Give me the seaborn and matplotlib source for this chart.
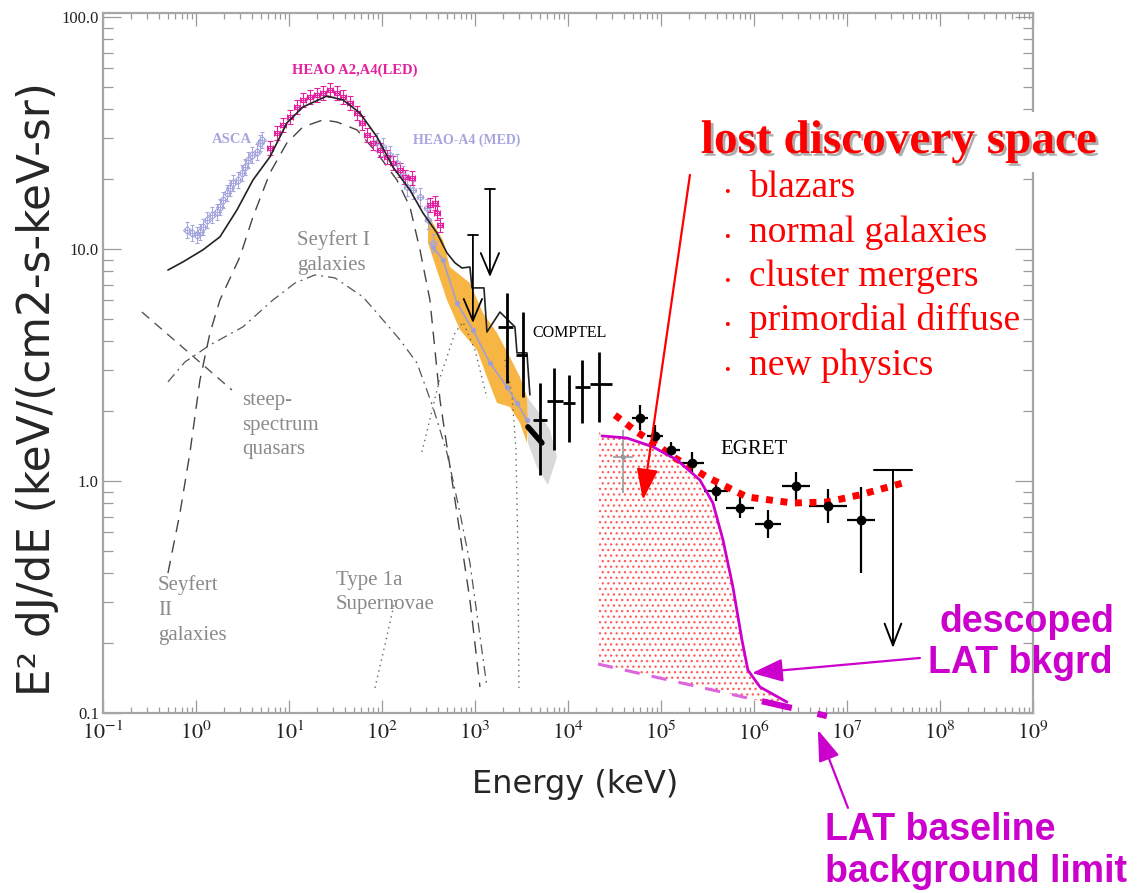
import numpy as np
import matplotlib
matplotlib.use("Agg")
import matplotlib.pyplot as plt
import matplotlib.patheffects as pe
from matplotlib.ticker import FixedLocator, FixedFormatter, LogLocator, NullFormatter
import seaborn as sns

# values: log10(E / keV) and log10(E^2 dJ/dE)

# total model (solid black)
tot_logE = [-0.301, -0.140, 0.075, 0.258, 0.441, 0.613, 0.796, 0.978, 1.151, 1.409, 1.581,
            1.763, 1.946, 2.118, 2.301, 2.441, 2.591, 2.699, 2.785, 2.860, 2.946, 2.968,
            3.097, 3.129, 3.269, 3.430, 3.452, 3.559, 3.591]
tot_logF = [0.909, 0.944, 0.996, 1.052, 1.168, 1.297, 1.397, 1.543, 1.612, 1.659, 1.642,
            1.586, 1.483, 1.353, 1.254, 1.155, 1.069, 0.983, 0.940, 0.918, 0.922, 0.832,
            0.832, 0.642, 0.728, 0.664, 0.552, 0.552, 0.371]

# Seyfert II (dashed)
sy2_logE = [-0.301, -0.172, -0.065, 0.043, 0.151, 0.258, 0.473, 0.613, 0.796, 0.978, 1.151, 1.366,
            1.516, 1.731, 1.946, 2.161, 2.301, 2.409, 2.516, 2.624, 2.785, 2.946, 3.054]
sy2_logF = [-0.397, -0.138, 0.121, 0.435, 0.638, 0.780, 0.966, 1.138, 1.328, 1.457, 1.526, 1.556,
            1.547, 1.513, 1.414, 1.297, 1.181, 0.996, 0.780, 0.349, -0.082, -0.513, -0.888]

# Seyfert I (dash-dot)
sy1_logE = [-0.301, -0.118, 0.151, 0.505, 0.828, 1.065, 1.280, 1.495, 1.796, 2.011, 2.194,
            2.376, 2.548, 2.699, 2.839, 2.946, 3.129]
sy1_logF = [0.427, 0.513, 0.586, 0.664, 0.780, 0.853, 0.888, 0.875, 0.793, 0.694, 0.608,
            0.509, 0.319, 0.121, -0.138, -0.353, -0.888]

# steep-spectrum quasars (dashed)
ssq_logE = [-0.581, 0.387]
ssq_logF = [0.728, 0.392]

# Type 1a supernovae and MeV components (dotted)
sn_logE = [1.925, 2.032, 2.140]
sn_logF = [-0.892, -0.707, -0.513]
bump_logE = [2.430, 2.624, 2.785, 2.871, 3.000, 3.129]
bump_logF = [0.125, 0.444, 0.638, 0.685, 0.565, 0.358]
cut_logE = [3.323, 3.398, 3.441, 3.462, 3.473]
cut_logF = [0.522, 0.371, 0.134, -0.297, -0.892]

# ASCA
asca_logE = [-0.097, -0.043, 0.011, 0.043, 0.075, 0.118, 0.172, 0.226, 0.258, 0.290, 0.333,
             0.366, 0.398, 0.452, 0.495, 0.527, 0.559, 0.602, 0.656, 0.688, 0.710]
asca_logF = [1.082, 1.069, 1.060, 1.073, 1.095, 1.125, 1.147, 1.159, 1.181, 1.211, 1.241,
             1.263, 1.284, 1.297, 1.328, 1.353, 1.384, 1.405, 1.418, 1.457, 1.470]

# HEAO A2,A4 (LED)
led_logE = [0.796, 0.871, 0.935, 1.011, 1.086, 1.151, 1.226, 1.301, 1.366, 1.441, 1.516, 1.581,
            1.656, 1.731, 1.785, 1.839, 1.903, 1.978, 2.054, 2.118, 2.194, 2.247, 2.323, 2.516,
            2.570, 2.591, 2.624]
led_logF = [1.435, 1.500, 1.534, 1.569, 1.612, 1.642, 1.655, 1.664, 1.672, 1.685, 1.672, 1.655,
            1.629, 1.586, 1.543, 1.491, 1.457, 1.427, 1.397, 1.371, 1.341, 1.310, 1.306, 1.190,
            1.198, 1.155, 1.103]

# HEAO-A4 (MED)
med_logE = [1.946, 2.011, 2.086, 2.161, 2.226, 2.269, 2.333, 2.409, 2.484, 2.495, 2.548]
med_logF = [1.461, 1.440, 1.405, 1.371, 1.319, 1.267, 1.254, 1.224, 1.177, 1.125, 1.026]

# orange band (outline) and the lavender points inside it
band_logE = [2.495, 2.656, 2.731, 2.946, 3.086, 3.237, 3.376, 3.484, 3.559, 3.570,
             3.559, 3.484, 3.376, 3.237, 3.129, 3.022, 2.839, 2.699, 2.591, 2.495]
band_logF = [1.147, 1.039, 0.922, 0.853, 0.724, 0.638, 0.534, 0.448, 0.362, 0.250,
             0.164, 0.250, 0.319, 0.336, 0.448, 0.565, 0.651, 0.780, 0.909, 1.026]
mid_logE = [2.548, 2.656, 2.806, 2.978, 3.161, 3.344, 3.452, 3.559]
mid_logF = [1.009, 0.953, 0.767, 0.651, 0.509, 0.405, 0.336, 0.263]

# grey band and black segment at its top
grey_logE = [3.559, 3.667, 3.806, 3.882, 3.785, 3.667, 3.570]
grey_logF = [0.362, 0.306, 0.220, 0.103, -0.017, 0.060, 0.164]
blk_logE = [3.570, 3.720]
blk_logF = [0.233, 0.164]

# upper limits near 1 MeV
ul_logE = [2.978, 3.161]
ul_top = [1.060, 1.259]
ul_tip = [0.681, 0.879]

# COMPTEL
cp_logE = [3.344, 3.516, 3.699, 3.849, 4.011, 4.151, 4.333]
cp_logF = [0.664, 0.543, 0.263, 0.345, 0.336, 0.405, 0.418]
cp_lo = [0.422, 0.362, 0.026, 0.134, 0.168, 0.250, 0.254]
cp_hi = [0.810, 0.728, 0.422, 0.487, 0.457, 0.522, 0.556]
cp_xlo = [3.247, 3.441, 3.624, 3.774, 3.946, 4.075, 4.237]
cp_xhi = [3.409, 3.559, 3.774, 3.946, 4.075, 4.237, 4.473]

# EGRET
eg_logE = [4.774, 4.935, 5.108, 5.333, 5.591, 5.849, 6.151, 6.452, 6.796, 7.151]
eg_logF = [0.272, 0.194, 0.134, 0.078, -0.043, -0.116, -0.185, -0.022, -0.108, -0.168]
eg_dlo = [0.054, 0.045, 0.035, 0.045, 0.045, 0.045, 0.060, 0.060, 0.075, 0.228]
eg_dhi = [0.054, 0.045, 0.035, 0.045, 0.045, 0.045, 0.060, 0.060, 0.075, 0.142]
eg_dx = [0.086, 0.09, 0.10, 0.13, 0.125, 0.15, 0.14, 0.15, 0.20, 0.15]
egul_logE, egul_top, egul_tip, egul_dx = 7.495, 0.047, -0.720, 0.2
gx_logE, gx_logF, gx_dlo, gx_dhi, gx_dx = 4.591, 0.103, 0.155, 0.117, 0.108

# EGRET extragalactic (red dotted)
rd_logE = [4.505, 4.742, 4.957, 5.151, 5.495, 5.925, 6.419, 6.785, 7.140, 7.645]
rd_logF = [0.284, 0.211, 0.155, 0.099, 0.017, -0.069, -0.095, -0.091, -0.060, -0.004]

# descoped LAT background (magenta)
mg_logE = [4.366, 4.634, 4.914, 5.172, 5.419, 5.559, 5.667, 5.774, 5.871, 5.935, 6.065, 6.355]
mg_logF = [0.194, 0.185, 0.147, 0.091, 0.004, -0.095, -0.254, -0.457, -0.685, -0.815, -0.888, -0.953]

# LAT baseline background limit (magenta dashed)
lat_logE = [4.323, 6.785]
lat_logF = [-0.789, -1.013]

bullets = ["blazars", "normal galaxies", "cluster mergers", "primordial diffuse", "new physics"]
xtick_exp = list(range(-1, 10))
ytick_vals = [0.1, 1.0, 10.0, 100.0]
ytick_text = ["0.1", "1.0", "10.0", "100.0"]

LAV = "#a6a6de"
PINK = "#e3209e"
MAG = "#cc00cc"
GREYTXT = "#8a8a8a"


def lin(v):
    return 10.0 ** np.asarray(v, dtype=float)


def dex_err(v, lo, hi):
    v = lin(v)
    return [v - v / 10.0 ** np.asarray(lo), v * 10.0 ** np.asarray(hi) - v]


sns.set_theme(style="ticks")
plt.rcParams["font.family"] = ["Liberation Serif", "DejaVu Sans"]
plt.rcParams["mathtext.fontset"] = "stix"
plt.rcParams["hatch.linewidth"] = 0.9

fig = plt.figure(figsize=(11.44, 8.93), dpi=100)
ax = fig.add_axes([0.0900, 0.2016, 0.8129, 0.7839])
ax.set_xscale("log")
ax.set_yscale("log")
ax.set_xlim(1e-1, 1e9)
ax.set_ylim(0.1, 104)


def curve(le, lf, **kw):
    sns.lineplot(x=lin(le), y=lin(lf), sort=False, estimator=None, ax=ax, legend=False, **kw)


# lost discovery space (dotted red fill)
fill_E = np.concatenate([[lat_logE[0]], mg_logE])
fill_top = np.concatenate([[0.220], mg_logF])
fill_bot = np.interp(fill_E, lat_logE, lat_logF)
ax.fill_between(lin(fill_E), lin(fill_bot), lin(fill_top), facecolor="white",
                edgecolor="#ff5c5c", hatch="...", linewidth=0, zorder=1)

# bands
ax.fill(lin(grey_logE), lin(grey_logF), color="#d9d9d9", lw=0, zorder=2)
ax.fill(lin(band_logE), lin(band_logF), color="#f7b544", lw=0, zorder=2)

# model components
curve(sy2_logE, sy2_logF, color="#444444", lw=1.0, linestyle=(0, (9, 6)), zorder=3)
curve(sy1_logE, sy1_logF, color="#555555", lw=0.9, linestyle=(0, (8, 4, 1.5, 4)), zorder=3)
curve(ssq_logE, ssq_logF, color="#555555", lw=1.0, linestyle=(0, (7, 5)), zorder=3)
curve(sn_logE, sn_logF, color="#666666", lw=1.0, linestyle=(0, (1, 3)), zorder=3)
curve(bump_logE, bump_logF, color="#666666", lw=1.0, linestyle=(0, (1, 3)), zorder=3)
curve(cut_logE, cut_logF, color="#666666", lw=1.0, linestyle=(0, (1, 3)), zorder=3)

# data
ax.errorbar(lin(asca_logE), lin(asca_logF), yerr=dex_err(asca_logF, 0.035, 0.035),
            xerr=dex_err(asca_logE, 0.02, 0.02), fmt="D", ms=4, mfc="none", mec=LAV,
            mew=0.8, ecolor=LAV, elinewidth=0.7, capsize=1.5, zorder=4)
ax.errorbar(lin(med_logE), lin(med_logF), yerr=dex_err(med_logF, 0.04, 0.04),
            xerr=dex_err(med_logE, 0.03, 0.03), fmt="D", ms=3.5, mfc="none", mec=LAV,
            mew=0.8, ecolor=LAV, elinewidth=0.7, capsize=1.5, zorder=4)
ax.errorbar(lin(led_logE), lin(led_logF), yerr=dex_err(led_logF, 0.03, 0.03),
            xerr=dex_err(led_logE, 0.035, 0.035), fmt="s", ms=2.5, mfc="none", mec=PINK,
            mew=0.8, ecolor=PINK, elinewidth=0.8, capsize=2, zorder=4)
curve(mid_logE, mid_logF, color="#9f9fd8", lw=1.2, marker="o", ms=3, mec="#9f9fd8", zorder=4)
curve(tot_logE, tot_logF, color="#222222", lw=1.2, zorder=5)
curve(blk_logE, blk_logF, color="black", lw=4, zorder=5)

for x, top, tip in zip(ul_logE, ul_top, ul_tip):
    ax.plot([lin(x - 0.05), lin(x + 0.05)], [lin(top), lin(top)], color="black", lw=1.3, zorder=5)
    ax.annotate("", xy=(lin(x), lin(tip)), xytext=(lin(x), lin(top)), zorder=5,
                arrowprops=dict(arrowstyle="->,head_length=1.3,head_width=0.55",
                                color="black", lw=1.3, shrinkA=0, shrinkB=0))

ax.errorbar(lin(cp_logE), lin(cp_logF),
            yerr=[lin(cp_logF) - lin(cp_lo), lin(cp_hi) - lin(cp_logF)],
            xerr=[lin(cp_logE) - lin(cp_xlo), lin(cp_xhi) - lin(cp_logE)],
            fmt="none", ecolor="black", elinewidth=2.0, zorder=5)

ax.errorbar(lin(gx_logE), lin(gx_logF), yerr=dex_err([gx_logF], [gx_dlo], [gx_dhi]),
            xerr=dex_err([gx_logE], [gx_dx], [gx_dx]), fmt="o", ms=2.5, color="#999999",
            elinewidth=1.2, zorder=5)
ax.errorbar(lin(eg_logE), lin(eg_logF), yerr=dex_err(eg_logF, eg_dlo, eg_dhi),
            xerr=dex_err(eg_logE, eg_dx, eg_dx), fmt="o", ms=6, color="black",
            elinewidth=1.6, zorder=6)
ax.plot([lin(egul_logE - egul_dx), lin(egul_logE + egul_dx)], [lin(egul_top), lin(egul_top)],
        color="black", lw=1.5, zorder=6)
ax.annotate("", xy=(lin(egul_logE), lin(egul_tip)), xytext=(lin(egul_logE), lin(egul_top)),
            arrowprops=dict(arrowstyle="->,head_length=1.3,head_width=0.5", color="black",
                            lw=1.4, shrinkA=0, shrinkB=0), zorder=6)

curve(rd_logE, rd_logF, color="#ff0000", lw=5, linestyle=(0, (1, 1.1)), zorder=6)
curve(mg_logE, mg_logF, color=MAG, lw=2.0, zorder=6)

lat_mid = 6.05
lat_mid_F = np.interp(lat_mid, lat_logE, lat_logF)
curve([lat_logE[0], lat_mid], [lat_logF[0], lat_mid_F], color="#dd66dd", lw=2.2,
      linestyle=(0, (5, 4)), zorder=6)
seg = ax.plot(lin([6.086, lat_logE[1]]), lin([np.interp(6.086, lat_logE, lat_logF), lat_logF[1]]),
              color=MAG, lw=4.5, linestyle=(0, (4.9, 4.2)), zorder=6)
seg[0].set_clip_on(False)

# scales / ticks
ax.xaxis.set_major_locator(FixedLocator(lin(xtick_exp)))
ax.xaxis.set_major_formatter(FixedFormatter([r"$10^{%d}$" % k for k in xtick_exp]))
ax.xaxis.set_minor_locator(LogLocator(base=10, subs=np.arange(2, 10), numticks=100))
ax.xaxis.set_minor_formatter(NullFormatter())
ax.yaxis.set_major_locator(FixedLocator(ytick_vals))
ax.yaxis.set_major_formatter(FixedFormatter(ytick_text))
ax.yaxis.set_minor_locator(LogLocator(base=10, subs=np.arange(2, 10), numticks=100))
ax.yaxis.set_minor_formatter(NullFormatter())
ax.tick_params(which="both", direction="in", top=True, right=True, color="#9a9a9a",
               width=0.9, labelcolor="#222222", labelsize=12)
ax.tick_params(axis="x", which="major", length=9.5, pad=6, labelsize=16)
ax.tick_params(axis="x", which="minor", length=4.3)
ax.tick_params(axis="y", which="major", length=13, pad=3)
ax.tick_params(axis="y", which="minor", length=7)
for s in ax.spines.values():
    s.set_color("#a6a6a6")
    s.set_linewidth(1.6)
ax.set_xlabel("")
ax.set_ylabel("")

# in-plot labels
ax.text(lin(1.710), lin(1.772), "HEAO A2,A4(LED)", color=PINK, fontsize=10.5,
        fontweight="bold", ha="center", va="center")
ax.text(lin(0.387), lin(1.470), "ASCA", color=LAV, fontsize=10.5, fontweight="bold",
        ha="center", va="center")
ax.text(lin(2.914), lin(1.470), "HEAO-A4 (MED)", color=LAV, fontsize=10, fontweight="bold",
        ha="center", va="center")
ax.text(lin(1.086), lin(0.985), "Seyfert I\ngalaxies", color=GREYTXT, fontsize=15,
        ha="left", va="center", linespacing=1.4)
ax.text(lin(0.495), lin(0.241), "steep-\nspectrum\nquasars", color=GREYTXT, fontsize=15,
        ha="left", va="center", linespacing=1.4)
ax.text(lin(-0.409), lin(-0.556), "Seyfert\nII\ngalaxies", color=GREYTXT, fontsize=15,
        ha="left", va="center", linespacing=1.4)
ax.text(lin(1.505), lin(-0.481), "Type 1a\nSupernovae", color=GREYTXT, fontsize=15,
        ha="left", va="center", linespacing=1.4)
ax.text(lin(3.613), lin(0.638), "COMPTEL", color="black", fontsize=11.5, ha="left", va="center")
ax.text(lin(5.634), lin(0.134), "EGRET", color="black", fontsize=15, ha="left", va="center")

# arrows
ax.annotate("", xy=(lin(4.806), lin(-0.082)), xytext=(lin(5.312), lin(1.319)),
            annotation_clip=False, zorder=7,
            arrowprops=dict(arrowstyle="-|>,head_length=1.6,head_width=0.55", color="#ff0000",
                            lw=1.6, shrinkA=0, shrinkB=0))
ax.annotate("", xy=(lin(5.978), lin(-0.828)), xytext=(lin(7.785), lin(-0.763)),
            annotation_clip=False, zorder=7,
            arrowprops=dict(arrowstyle="-|>,head_length=1.6,head_width=0.6", color=MAG,
                            lw=1.6, shrinkA=0, shrinkB=0))
ax.annotate("", xy=(lin(6.688), lin(-1.073)), xytext=(lin(7.011), lin(-1.409)),
            annotation_clip=False, zorder=7,
            arrowprops=dict(arrowstyle="-|>,head_length=1.6,head_width=0.55", color=MAG,
                            lw=1.6, shrinkA=0, shrinkB=0))

# outer texts
fig.text(0.033, 0.5644, "E² dJ/dE (keV/(cm2-s-keV-sr)", rotation=90, fontsize=31.5,
         family=["DejaVu Sans"], ha="center", va="center")
fig.text(0.5026, 0.121, "Energy (keV)", fontsize=23, family=["DejaVu Sans"],
         ha="center", va="center")

fig.text(0.7858, 0.8287, "lost discovery space", color="#ff0000", fontsize=34,
         fontweight="bold", ha="center", va="baseline",
         bbox=dict(boxstyle="square,pad=0.2", facecolor="white", edgecolor="none"),
         path_effects=[pe.SimplePatchShadow(offset=(2, -2), shadow_rgbFace="#9a9a9a", alpha=0.8),
                       pe.Normal()])
for i, item in enumerate(bullets):
    yb = 1 - (197 + 44.5 * i) / 893
    fig.text(0.6355, yb, "•", color="#ff0000", fontsize=12, ha="center", va="baseline")
    fig.text(0.6547, yb, item, color="#ff0000", fontsize=27, ha="left", va="baseline")

fig.text(0.8977, 1 - 622 / 893, "descoped", color=MAG, fontsize=27, fontweight="bold",
         family=["Liberation Sans"], ha="center", va="center")
fig.text(0.8916, 1 - 663 / 893, "LAT bkgrd", color=MAG, fontsize=27, fontweight="bold",
         family=["Liberation Sans"], ha="center", va="center")
fig.text(0.7212, 1 - 830 / 893, "LAT baseline", color=MAG, fontsize=27, fontweight="bold",
         family=["Liberation Sans"], ha="left", va="center")
fig.text(0.7212, 1 - 872 / 893, "background limit", color=MAG, fontsize=27, fontweight="bold",
         family=["Liberation Sans"], ha="left", va="center")

fig.savefig("out.png", dpi=100)
